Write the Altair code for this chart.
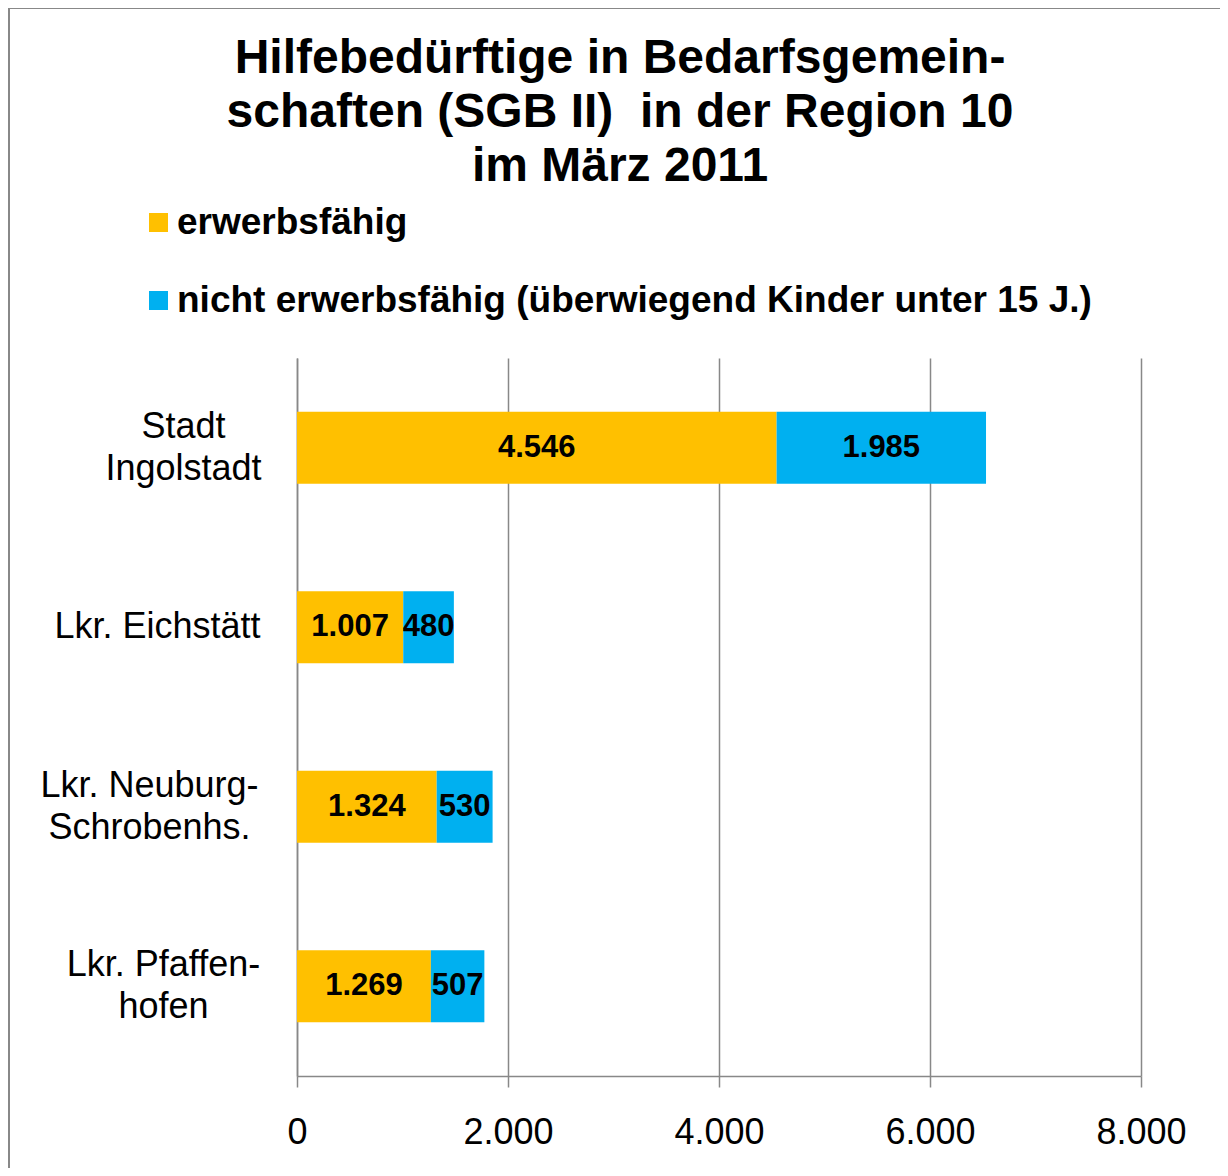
import altair as alt
import pandas as pd

regions = ["Stadt\nIngolstadt", "Lkr. Eichstätt", "Lkr. Neuburg-\nSchrobenhs.", "Lkr. Pfaffen-\nhofen"]
erwerbsfaehig = [4546, 1007, 1324, 1269]
nicht_erwerbsfaehig = [1985, 480, 530, 507]
series = ["erwerbsfähig", "nicht erwerbsfähig (überwiegend Kinder unter 15 J.)"]
colors = ["#FFC000", "#00B0F0"]
x_ticks = [0, 2000, 4000, 6000, 8000]
title_lines = ["Hilfebedürftige in Bedarfsgemein-", "schaften (SGB II)\u00a0 in der Region 10", "im März 2011"]

rows = []
for r, a, b in zip(regions, erwerbsfaehig, nicht_erwerbsfaehig):
    rows.append({"region": r, "series": series[0], "order": 0, "value": a})
    rows.append({"region": r, "series": series[1], "order": 1, "value": b})
df = pd.DataFrame(rows)

FONT = "Liberation Sans"
GRID = "#888888"

base = alt.Chart(df).transform_stack(
    stack="value", groupby=["region"], as_=["x0", "x1"],
    sort=[alt.SortField("order", order="ascending")]
).transform_calculate(
    mid="(datum.x0 + datum.x1) / 2",
    lab="replace(format(datum.value, ','), ',', '.')"
)

yenc = alt.Y(
    "region:N", sort=regions, title=None,
    scale=alt.Scale(paddingInner=0.6, paddingOuter=0.3),
    axis=alt.Axis(
        labelExpr="split(datum.label, '\\n')",
        labelFont=FONT, labelFontSize=36, labelColor="black",
        labelAlign="center", labelBaseline="middle", labelLineHeight=42,
        labelLimit=1000, ticks=False, domainColor=GRID, domainWidth=1.5,
        labelOffset={"condition": [
            {"test": "indexof(datum.value, 'Eichst') >= 0", "value": 0},
        ], "value": -21},
        labelPadding={"condition": [
            {"test": "indexof(datum.value, 'Ingolstadt') >= 0", "value": 114},
            {"test": "indexof(datum.value, 'Eichst') >= 0", "value": 140},
            {"test": "indexof(datum.value, 'Neuburg') >= 0", "value": 148},
        ], "value": 134},
    ),
)

xscale = alt.Scale(domain=[0, 8000], nice=False)

bars = base.mark_bar().encode(
    x=alt.X("x0:Q", scale=xscale, title=None,
            axis=alt.Axis(values=x_ticks, labelExpr="replace(format(datum.value, ','), ',', '.')",
                          labelFont=FONT, labelFontSize=36, labelColor="black", labelFlush=False,
                          labelPadding=28, tickSize=11, tickColor=GRID, tickWidth=1.5,
                          domainColor=GRID, domainWidth=1.5,
                          grid=True, gridColor=GRID, gridWidth=1.5)),
    x2="x1:Q",
    y=yenc,
    color=alt.Color("series:N", scale=alt.Scale(domain=series, range=colors),
                    legend=alt.Legend(title=None, orient="none", legendX=-157, legendY=-154,
                                      direction="vertical", symbolType="square", symbolSize=361,
                                      symbolStrokeWidth=0, labelFont=FONT, labelFontSize=37,
                                      labelFontWeight="bold", labelColor="black", labelLimit=1200,
                                      labelOffset=0, rowPadding=40, padding=0)),
)

texts = base.mark_text(font=FONT, fontSize=31, fontWeight="bold", color="black", baseline="middle").encode(
    x=alt.X("mid:Q", scale=xscale),
    y=alt.Y("region:N", sort=regions),
    text="lab:N",
)

border = alt.Chart(alt.Data(values=[{}])).mark_rect(
    fill=None, stroke="#888888", strokeWidth=2
).encode(
    x=alt.value(-288), x2=alt.value(1200), y=alt.value(-350), y2=alt.value(1200)
)

chart = alt.layer(border, bars, texts).properties(
    width=844, height=718,
    autosize=alt.AutoSizeParams(type="none"),
    padding={"left": 289, "top": 350, "right": 79, "bottom": 92},
    title=alt.TitleParams(text=title_lines, font=FONT, fontSize=48, fontWeight="bold",
                          color="black", lineHeight=54, anchor="middle", frame="group",
                          dx=-99, offset=-184),
).configure_view(stroke=None)

chart.save("out.html", embed_options={"renderer": "svg", "actions": False})
